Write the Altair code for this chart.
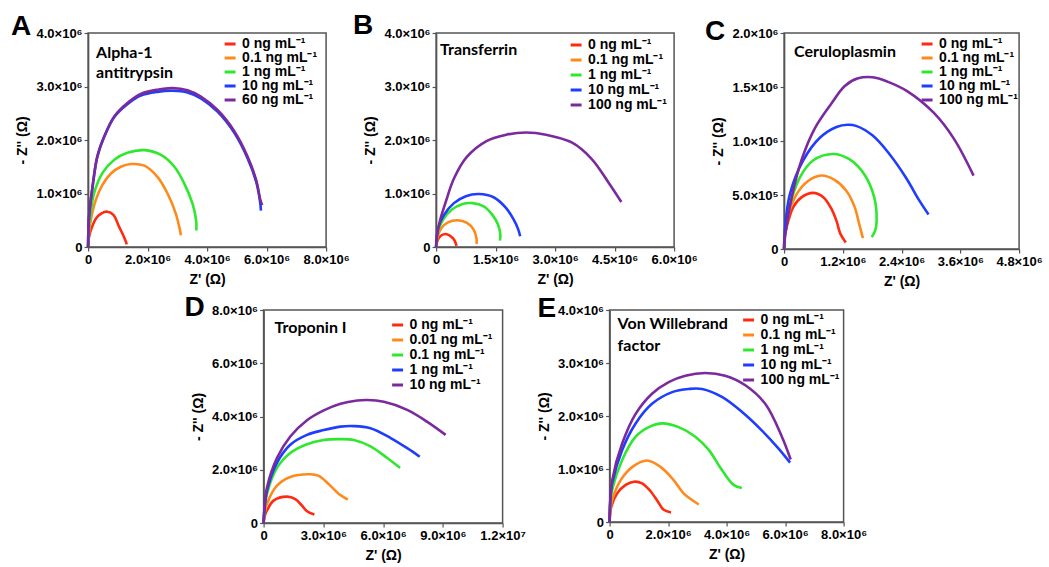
import altair as alt
import pandas as pd

COLORS = ["#ff2a10", "#ff8a1c", "#2ee82e", "#1f3dff", "#7b2a9e"]
FONT = "Liberation Sans"

# ---------------- data (Z' and -Z'' in units of 10^6 ohm) ----------------
# Panel A - Alpha-1 antitrypsin
a_conc = ["0 ng mL⁻¹", "0.1 ng mL⁻¹", "1 ng mL⁻¹", "10 ng mL⁻¹", "60 ng mL⁻¹"]
a_x = [
    [0, 0.03, 0.09, 0.26, 0.45, 0.65, 0.85, 1.04, 1.18, 1.27, 1.3],
    [0, 0.03, 0.09, 0.26, 0.48, 0.76, 1.1, 1.44, 1.89, 2.33, 2.67, 2.95, 3.09, 3.12],
    [0, 0.02, 0.07, 0.2, 0.48, 0.88, 1.32, 1.89, 2.45, 2.9, 3.23, 3.51, 3.63, 3.64],
    [0, 0.03, 0.15, 0.31, 0.54, 0.88, 1.32, 1.77, 2.33, 2.84, 3.34, 3.79, 4.35, 4.92, 5.36, 5.65, 5.78, 5.81],
    [0, 0.03, 0.15, 0.31, 0.54, 0.88, 1.32, 1.77, 2.33, 2.84, 3.34, 3.79, 4.35, 4.92, 5.36, 5.65, 5.79, 5.85],
]
a_y = [
    [0, 0.18, 0.31, 0.53, 0.63, 0.66, 0.6, 0.38, 0.22, 0.1, 0.05],
    [0, 0.25, 0.5, 0.88, 1.16, 1.37, 1.5, 1.55, 1.52, 1.31, 1.0, 0.62, 0.31, 0.22],
    [0, 0.3, 0.56, 1.0, 1.38, 1.63, 1.76, 1.81, 1.72, 1.5, 1.19, 0.81, 0.5, 0.31],
    [0, 0.56, 1.13, 1.69, 2.06, 2.43, 2.67, 2.83, 2.9, 2.92, 2.89, 2.78, 2.53, 2.13, 1.66, 1.22, 0.85, 0.68],
    [0, 0.56, 1.13, 1.69, 2.06, 2.44, 2.69, 2.86, 2.94, 2.97, 2.93, 2.81, 2.56, 2.16, 1.69, 1.25, 0.88, 0.78],
]
a_xticks = [0, 2, 4, 6, 8]
a_xlabels = ["0", "2.0×10⁶", "4.0×10⁶", "6.0×10⁶", "8.0×10⁶"]
a_yticks = [0, 1, 2, 3, 4]
a_ylabels = ["0", "1.0×10⁶", "2.0×10⁶", "3.0×10⁶", "4.0×10⁶"]

# Panel B - Transferrin
b_conc = ["0 ng mL⁻¹", "0.1 ng mL⁻¹", "1 ng mL⁻¹", "10 ng mL⁻¹", "100 ng mL⁻¹"]
b_x = [
    [0, 0.04, 0.12, 0.27, 0.43, 0.5, 0.51],
    [0, 0.04, 0.14, 0.3, 0.54, 0.78, 0.95, 1.02, 1.02],
    [0, 0.05, 0.18, 0.4, 0.65, 0.92, 1.2, 1.42, 1.56, 1.62, 1.61],
    [0, 0.05, 0.2, 0.45, 0.75, 1.08, 1.45, 1.75, 1.95, 2.07, 2.12],
    [0, 0.03, 0.1, 0.25, 0.45, 0.77, 1.27, 1.77, 2.27, 2.77, 3.43, 3.93, 4.35, 4.67],
]
b_y = [
    [0, 0.13, 0.21, 0.24, 0.16, 0.06, 0.02],
    [0, 0.2, 0.36, 0.46, 0.5, 0.45, 0.32, 0.15, 0.06],
    [0, 0.3, 0.52, 0.7, 0.8, 0.82, 0.76, 0.6, 0.42, 0.23, 0.12],
    [0, 0.35, 0.6, 0.82, 0.95, 0.99, 0.93, 0.74, 0.52, 0.33, 0.2],
    [0, 0.25, 0.5, 0.86, 1.28, 1.68, 1.98, 2.1, 2.14, 2.1, 1.95, 1.64, 1.2, 0.84],
]
b_xticks = [0, 1.5, 3, 4.5, 6]
b_xlabels = ["0", "1.5×10⁶", "3.0×10⁶", "4.5×10⁶", "6.0×10⁶"]
b_yticks = [0, 1, 2, 3, 4]
b_ylabels = ["0", "1.0×10⁶", "2.0×10⁶", "3.0×10⁶", "4.0×10⁶"]

# Panel C - Ceruloplasmin
c_conc = ["0 ng mL⁻¹", "0.1 ng mL⁻¹", "1 ng mL⁻¹", "10 ng mL⁻¹", "100 ng mL⁻¹"]
c_x = [
    [0, 0.01, 0.05, 0.19, 0.36, 0.59, 0.8, 0.97, 1.07, 1.15, 1.26],
    [0, 0.01, 0.05, 0.26, 0.49, 0.76, 1.03, 1.27, 1.44, 1.54, 1.61],
    [0, 0.02, 0.09, 0.32, 0.59, 1.0, 1.34, 1.64, 1.84, 1.89, 1.86, 1.79],
    [0, 0.02, 0.12, 0.39, 0.73, 1.07, 1.3, 1.47, 1.81, 2.15, 2.49, 2.76, 2.95],
    [0, 0.02, 0.16, 0.36, 0.63, 0.97, 1.24, 1.51, 1.81, 2.11, 2.52, 3.06, 3.47, 3.87],
]
c_y = [
    [0, 0.1, 0.2, 0.39, 0.48, 0.52, 0.48, 0.37, 0.26, 0.14, 0.06],
    [0, 0.12, 0.26, 0.51, 0.63, 0.68, 0.64, 0.54, 0.39, 0.22, 0.1],
    [0, 0.15, 0.35, 0.66, 0.82, 0.88, 0.83, 0.69, 0.48, 0.26, 0.17, 0.11],
    [0, 0.2, 0.51, 0.82, 1.03, 1.13, 1.15, 1.14, 1.05, 0.88, 0.66, 0.45, 0.32],
    [0, 0.12, 0.49, 0.83, 1.12, 1.35, 1.51, 1.58, 1.59, 1.55, 1.46, 1.26, 1.02, 0.68],
]
c_xticks = [0, 1.2, 2.4, 3.6, 4.8]
c_xlabels = ["0", "1.2×10⁶", "2.4×10⁶", "3.6×10⁶", "4.8×10⁶"]
c_yticks = [0, 0.5, 1, 1.5, 2]
c_ylabels = ["0", "5.0×10⁵", "1.0×10⁶", "1.5×10⁶", "2.0×10⁶"]

# Panel D - Troponin I
d_conc = ["0 ng mL⁻¹", "0.01 ng mL⁻¹", "0.1 ng mL⁻¹", "1 ng mL⁻¹", "10 ng mL⁻¹"]
d_x = [
    [0, 0.05, 0.17, 0.5, 1.17, 1.59, 1.93, 2.18, 2.55],
    [0, 0.05, 0.17, 0.67, 1.34, 2.35, 2.77, 3.27, 3.78, 4.23],
    [0, 0.05, 0.17, 0.67, 1.34, 2.18, 3.02, 3.78, 4.53, 5.37, 6.21, 6.85],
    [0, 0.05, 0.17, 0.67, 1.34, 2.18, 3.02, 3.86, 4.53, 5.37, 6.38, 7.21, 7.84],
    [0, 0.05, 0.17, 0.67, 1.34, 2.18, 3.02, 3.86, 4.7, 5.2, 6.04, 7.21, 8.22, 9.14],
]
d_y = [
    [0, 0.25, 0.47, 0.84, 0.99, 0.9, 0.65, 0.44, 0.32],
    [0, 0.35, 0.72, 1.4, 1.73, 1.83, 1.77, 1.46, 1.09, 0.88],
    [0, 0.5, 1.09, 2.07, 2.63, 2.96, 3.12, 3.15, 3.12, 2.88, 2.44, 2.07],
    [0, 0.55, 1.21, 2.26, 2.94, 3.31, 3.49, 3.62, 3.64, 3.56, 3.19, 2.81, 2.49],
    [0, 0.6, 1.33, 2.44, 3.25, 3.86, 4.23, 4.48, 4.6, 4.62, 4.55, 4.25, 3.8, 3.31],
]
d_xticks = [0, 3, 6, 9, 12]
d_xlabels = ["0", "3.0×10⁶", "6.0×10⁶", "9.0×10⁶", "1.2×10⁷"]
d_yticks = [0, 2, 4, 6, 8]
d_ylabels = ["0", "2.0×10⁶", "4.0×10⁶", "6.0×10⁶", "8.0×10⁶"]

# Panel E - Von Willebrand factor
e_conc = ["0 ng mL⁻¹", "0.1 ng mL⁻¹", "1 ng mL⁻¹", "10 ng mL⁻¹", "100 ng mL⁻¹"]
e_x = [
    [0, 0.02, 0.06, 0.26, 0.55, 0.83, 1.11, 1.4, 1.68, 1.85, 2.1],
    [0, 0.02, 0.09, 0.38, 0.78, 1.28, 1.74, 2.19, 2.53, 3.05],
    [0, 0.02, 0.09, 0.43, 0.89, 1.34, 1.8, 2.36, 2.93, 3.39, 3.84, 4.24, 4.52],
    [0, 0.02, 0.09, 0.43, 0.89, 1.45, 2.14, 2.7, 3.16, 3.84, 4.52, 5.2, 5.77, 6.17],
    [0, 0.02, 0.09, 0.43, 0.89, 1.45, 2.02, 2.59, 3.27, 3.95, 4.64, 5.32, 5.89, 6.19],
]
e_y = [
    [0, 0.15, 0.29, 0.54, 0.7, 0.76, 0.73, 0.58, 0.36, 0.23, 0.18],
    [0, 0.2, 0.42, 0.79, 1.04, 1.16, 1.04, 0.79, 0.54, 0.33],
    [0, 0.3, 0.61, 1.17, 1.61, 1.79, 1.86, 1.79, 1.61, 1.36, 0.98, 0.7, 0.64],
    [0, 0.35, 0.73, 1.36, 1.86, 2.23, 2.45, 2.51, 2.51, 2.36, 2.08, 1.73, 1.39, 1.12],
    [0, 0.38, 0.79, 1.48, 2.04, 2.42, 2.64, 2.76, 2.81, 2.76, 2.58, 2.23, 1.61, 1.18],
]
e_xticks = [0, 2, 4, 6, 8]
e_xlabels = ["0", "2.0×10⁶", "4.0×10⁶", "6.0×10⁶", "8.0×10⁶"]
e_yticks = [0, 1, 2, 3, 4]
e_ylabels = ["0", "1.0×10⁶", "2.0×10⁶", "3.0×10⁶", "4.0×10⁶"]


def label_expr(values, labels):
    expr = "''"
    for v, l in reversed(list(zip(values, labels))):
        expr = f"abs(datum.value - {v}) < 1e-6 ? '{l}' : {expr}"
    return expr


def panel(letter, note, concs, xs, ys, xt, xl, yt, yl, w, h,
          legend_pos, row_pad, note_pos, note_lh, letter_pos):
    rows = []
    for c, sx, sy in zip(concs, xs, ys):
        for i, (xv, yv) in enumerate(zip(sx, sy)):
            rows.append({"conc": c, "i": i, "x": xv, "y": yv})
    df = pd.DataFrame(rows)
    lines = alt.Chart(df).mark_line(
        strokeWidth=2.6, interpolate="catmull-rom", strokeCap="butt"
    ).encode(
        x=alt.X("x:Q",
                scale=alt.Scale(domain=[xt[0], xt[-1]], nice=False, zero=False),
                axis=alt.Axis(values=xt, labelExpr=label_expr(xt, xl),
                              title="Z' (Ω)", labelOverlap=False, labelFlush=False)),
        y=alt.Y("y:Q",
                scale=alt.Scale(domain=[yt[0], yt[-1]], nice=False, zero=False),
                axis=alt.Axis(values=yt, labelExpr=label_expr(yt, yl),
                              title="- Z'' (Ω)", labelOverlap=False, labelFlush=False)),
        color=alt.Color("conc:N", sort=concs,
                        scale=alt.Scale(domain=concs, range=COLORS),
                        legend=alt.Legend(
                            title=None, orient="none",
                            legendX=legend_pos[0], legendY=legend_pos[1],
                            symbolType="stroke", symbolStrokeWidth=3, symbolSize=120,
                            labelFont=FONT, labelFontSize=14, labelFontWeight="bold",
                            labelColor="black", rowPadding=row_pad, padding=0,
                            labelOffset=5, labelLimit=300)),
        order="i:Q",
    )
    one = pd.DataFrame({"k": [0]})
    note_mark = alt.Chart(one).mark_text(
        text=note, align="left", baseline="alphabetic", font="Lato",
        fontWeight="bold", fontSize=16, lineHeight=note_lh, color="black"
    ).encode(x=alt.value(note_pos[0]), y=alt.value(note_pos[1]))
    letter_mark = alt.Chart(one).mark_text(
        text=letter, align="left", baseline="alphabetic", font=FONT,
        fontWeight="bold", fontSize=28, color="black"
    ).encode(x=alt.value(letter_pos[0]), y=alt.value(letter_pos[1]))
    return alt.layer(lines, note_mark, letter_mark).properties(width=w, height=h)


pA = panel("A", ["Alpha-1", "antitrypsin"], a_conc, a_x, a_y, a_xticks, a_xlabels,
           a_yticks, a_ylabels, 238, 214, (135, 4), 0, (8, 25), 20, (-77, 2))
pB = panel("B", ["Transferrin"], b_conc, b_x, b_y, b_xticks, b_xlabels,
           b_yticks, b_ylabels, 238, 214, (133, 5), 1, (4, 22), 20, (-83, 1))
pC = panel("C", ["Ceruloplasmin"], c_conc, c_x, c_y, c_xticks, c_xlabels,
           c_yticks, c_ylabels, 235, 216, (136, 4), 0, (10, 24), 20, (-79, 7))
pD = panel("D", ["Troponin I"], d_conc, d_x, d_y, d_xticks, d_xlabels,
           d_yticks, d_ylabels, 239, 213, (127, 8), 1, (11, 23), 20, (-79, 6))
pE = panel("E", ["Von Willebrand", "factor"], e_conc, e_x, e_y, e_xticks, e_xlabels,
           e_yticks, e_ylabels, 234, 212, (132, 3), 1, (8, 19), 22, (-72, 7))

row1 = alt.hconcat(pA, pB, pC, spacing=110, bounds="flush").resolve_scale(
    color="independent", x="independent", y="independent").resolve_legend(color="independent")
row2 = alt.hconcat(pD, pE, spacing=107, bounds="flush").resolve_scale(
    color="independent", x="independent", y="independent").resolve_legend(color="independent")

chart = alt.vconcat(row1, row2, spacing=4, center=True).resolve_scale(
    color="independent", x="independent", y="independent"
).resolve_legend(color="independent").properties(
    padding={"left": 10, "top": 11, "right": 5, "bottom": 5},
    background="white",
).configure_view(
    stroke="#555555", strokeWidth=1.5
).configure_axis(
    labelFont=FONT, labelFontSize=13, labelFontWeight="bold", labelColor="black",
    labelPadding=2, domainColor="#555555", domainWidth=1.5, tickColor="#555555",
    tickSize=4, tickWidth=1.2, grid=False,
    titleFont=FONT, titleFontSize=14, titleFontWeight="bold", titleColor="black",
    titlePadding=6,
)

chart.save("out.html", embed_options={"renderer": "svg", "actions": False})
